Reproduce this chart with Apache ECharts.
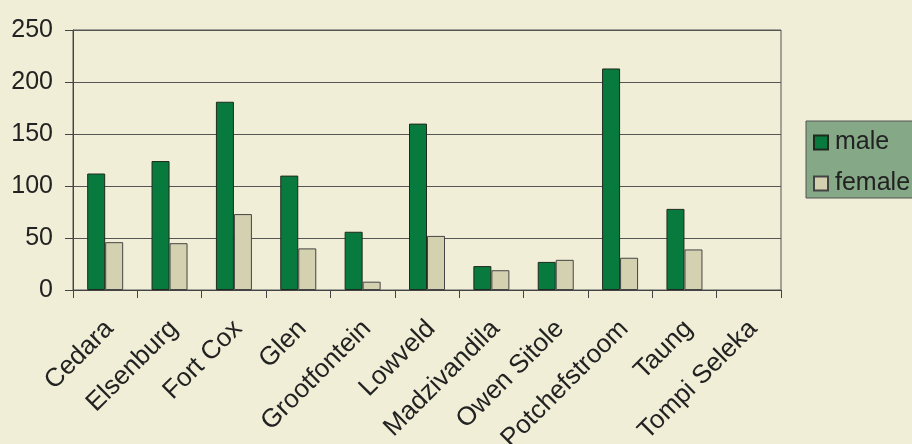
<!DOCTYPE html>
<html><head><meta charset="utf-8">
<script src="https://cdn.jsdelivr.net/npm/echarts@6/dist/echarts.min.js"></script>
<style>html,body{margin:0;padding:0;background:#f0eed6;}#c{width:912px;height:444px;}</style>
</head><body><div id="c"></div>
<script>
const categories = ['Cedara','Elsenburg','Fort Cox','Glen','Grootfontein','Lowveld','Madzivandila','Owen Sitole','Potchefstroom','Taung','Tompi Seleka'];
const male = [112,124,181,110,56,160,23,27,213,78,null];
const female = [46,45,73,40,8,52,19,29,31,39,null];
const yTicks = [0,50,100,150,200,250];

const chart = echarts.init(document.getElementById('c'));
chart.setOption({
  backgroundColor:'#f0eed6',
  animation:false,
  textStyle:{fontFamily:'Liberation Sans, Arial, sans-serif'},
  grid:{left:73,right:131,top:30,bottom:154,containLabel:false,outerBoundsMode:'none',
        show:true,borderColor:'#555',borderWidth:1,backgroundColor:'transparent'},
  legend:{
    orient:'vertical',left:806,top:121,
    data:['male','female'],
    backgroundColor:'#85a886',borderColor:'#555',borderWidth:1,
    padding:[9,40,2,7],itemGap:16,itemWidth:14,itemHeight:14,
    icon:'rect',
    textStyle:{fontSize:25,color:'#222',fontFamily:'Liberation Sans, Arial, sans-serif',padding:[0,0,0,2]}
  },
  xAxis:{
    type:'category',data:categories,
    axisLine:{lineStyle:{color:'#444',width:1}},
    axisTick:{show:true,length:8,lineStyle:{color:'#444'}},
    axisLabel:{rotate:45,interval:0,fontSize:26,color:'#222',margin:39,padding:[0,-6,0,0]}
  },
  yAxis:{
    type:'value',min:0,max:250,interval:50,
    axisLine:{show:true,lineStyle:{color:'#444',width:1}},
    axisTick:{show:true,length:8,lineStyle:{color:'#444'}},
    splitLine:{lineStyle:{color:'#555',width:1}},
    axisLabel:{fontSize:25,color:'#222',margin:20,formatter:v=>yTicks.includes(v)?String(v):''}
  },
  series:[
    {name:'male',type:'bar',data:male,barWidth:18,barGap:'0%',
     itemStyle:{color:'#087a3d',borderColor:'#1f2a1f',borderWidth:1}},
    {name:'female',type:'bar',data:female,barWidth:18,barGap:'0%',
     itemStyle:{color:'#d4d1b1',borderColor:'#444',borderWidth:1}}
  ]
});
</script></body></html>
